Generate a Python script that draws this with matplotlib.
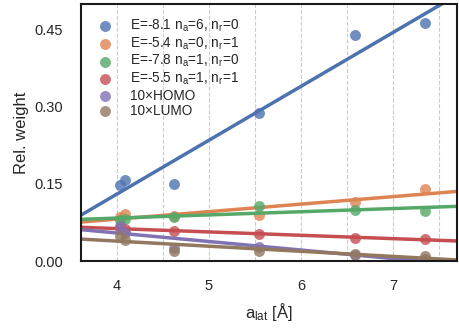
import numpy as np
import matplotlib
matplotlib.use("Agg")
import matplotlib.pyplot as plt
from matplotlib.ticker import MultipleLocator

plt.rcParams['font.family'] = ['Liberation Sans', 'DejaVu Sans']
plt.rcParams['mathtext.default'] = 'regular'

a_lat = [4.03, 4.09, 4.62, 5.54, 6.59, 7.35]
w_e81 = [0.148, 0.157, 0.149, 0.287, 0.440, 0.462]
w_e54 = [0.085, 0.092, 0.087, 0.089, 0.115, 0.141]
w_e78 = [0.080, 0.082, 0.085, 0.107, 0.100, 0.098]
w_e55 = [0.064, 0.062, 0.059, 0.053, 0.044, 0.043]
w_homo = [0.069, 0.055, 0.025, 0.027, 0.012, 0.003]
w_lumo = [0.049, 0.040, 0.020, 0.019, 0.014, 0.009]

labels = [r'E=-8.1 $n_a$=6, $n_r$=0',
          r'E=-5.4 $n_a$=0, $n_r$=1',
          r'E=-7.8 $n_a$=1, $n_r$=0',
          r'E=-5.5 $n_a$=1, $n_r$=1',
          '10×HOMO', '10×LUMO']
series = [w_e81, w_e54, w_e78, w_e55, w_homo, w_lumo]
colors = ['#4C72B0', '#DD8452', '#55A868', '#C44E52', '#8172B3', '#937860']

xlim = (3.61, 7.69)
ylim = (0.0, 0.5)

fig = plt.figure(figsize=(4.6, 3.3), dpi=100)
ax = fig.add_axes([0.176, 0.209, 0.817, 0.779])

x = np.array(a_lat)
xs = np.linspace(xlim[0], xlim[1], 100)
for y, lab, c in zip(series, labels, colors):
    ax.scatter(x, y, s=62, color=c, alpha=0.8, linewidths=0, label=lab, zorder=2)
    k, b = np.polyfit(x, np.array(y), 1)
    ax.plot(xs, k * xs + b, color=c, lw=2.5, zorder=2)

ax.set_xlim(*xlim)
ax.set_ylim(*ylim)
ax.set_xticks([4, 5, 6, 7])
ax.set_yticks([0.0, 0.15, 0.30, 0.45])
ax.set_yticklabels(['0.00', '0.15', '0.30', '0.45'])
ax.xaxis.set_minor_locator(MultipleLocator(0.5))
ax.grid(True, axis='x', which='both', ls='--', color='#cccccc', lw=0.8, zorder=0)
ax.set_axisbelow(True)
ax.tick_params(axis='both', which='both', length=0, labelsize=10.5,
               labelcolor='#262626', pad=13)
for s in ax.spines.values():
    s.set_color('#1a1a1a')
    s.set_linewidth(1.5)

ax.set_xlabel(r'$a_{lat}$ [Å]', fontsize=12, color='#262626', labelpad=6)
ax.set_ylabel('Rel. weight', fontsize=12, color='#262626', labelpad=4)

leg = ax.legend(loc='upper left', frameon=False, fontsize=9.8,
                labelspacing=0.1, handletextpad=1.0, borderaxespad=0.6,
                handlelength=1.6, scatterpoints=1)
for t in leg.get_texts():
    t.set_color('#262626')

fig.savefig('out.png', dpi=100)
